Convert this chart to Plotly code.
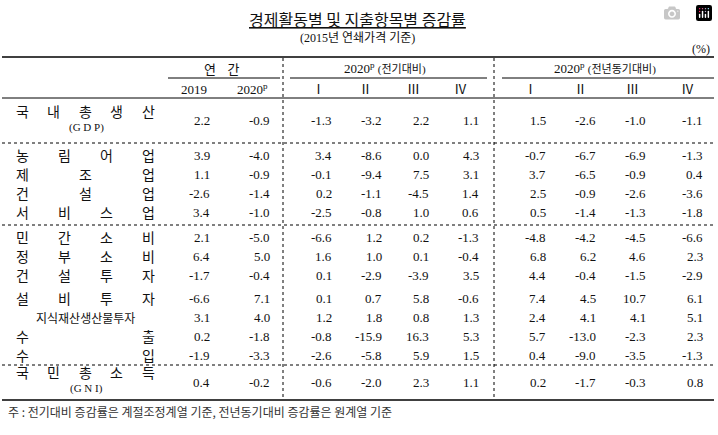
import plotly.graph_objects as go

labels = ["국내총생산", "농림어업", "제조업", "건설업", "서비스업", "민간소비", "정부소비",
          "건설투자", "설비투자", "지식재산생산물투자", "수출", "수입", "국민총소득"]
sublabels = {0: "(G D P)", 12: "(G N I)"}
col_headers = ["2019", "2020<sup>p</sup>", "Ⅰ", "Ⅱ", "Ⅲ", "Ⅳ", "Ⅰ", "Ⅱ", "Ⅲ", "Ⅳ"]
values = [
    [2.2, -0.9, -1.3, -3.2, 2.2, 1.1, 1.5, -2.6, -1.0, -1.1],
    [3.9, -4.0, 3.4, -8.6, 0.0, 4.3, -0.7, -6.7, -6.9, -1.3],
    [1.1, -0.9, -0.1, -9.4, 7.5, 3.1, 3.7, -6.5, -0.9, 0.4],
    [-2.6, -1.4, 0.2, -1.1, -4.5, 1.4, 2.5, -0.9, -2.6, -3.6],
    [3.4, -1.0, -2.5, -0.8, 1.0, 0.6, 0.5, -1.4, -1.3, -1.8],
    [2.1, -5.0, -6.6, 1.2, 0.2, -1.3, -4.8, -4.2, -4.5, -6.6],
    [6.4, 5.0, 1.6, 1.0, 0.1, -0.4, 6.8, 6.2, 4.6, 2.3],
    [-1.7, -0.4, 0.1, -2.9, -3.9, 3.5, 4.4, -0.4, -1.5, -2.9],
    [-6.6, 7.1, 0.1, 0.7, 5.8, -0.6, 7.4, 4.5, 10.7, 6.1],
    [3.1, 4.0, 1.2, 1.8, 0.8, 1.3, 2.4, 4.1, 4.1, 5.1],
    [0.2, -1.8, -0.8, -15.9, 16.3, 5.3, 5.7, -13.0, -2.3, 2.3],
    [-1.9, -3.3, -2.6, -5.8, 5.9, 1.5, 0.4, -9.0, -3.5, -1.3],
    [0.4, -0.2, -0.6, -2.0, 2.3, 1.1, 0.2, -1.7, -0.3, 0.8],
]
title = "경제활동별 및 지출항목별 증감률"
subtitle = "(2015년 연쇄가격 기준)"
group1 = "연    간"
group2 = "2020<sup>p</sup> <span style='font-size:11px'>(전기대비)</span>"
group3 = "2020<sup>p</sup> <span style='font-size:11px'>(전년동기대비)</span>"
unit = "(%)"
note = "주 : 전기대비 증감률은 계절조정계열 기준, 전년동기대비 증감률은 원계열 기준"

SER = "Liberation Serif, Noto Sans CJK KR"
KR = "Noto Sans CJK KR"
col_right = [212, 272, 334, 384, 431, 481, 548, 598, 648, 705]
col_center = [194, 252, 318, 365, 413, 460, 530, 580, 632, 687]
row_y = [120, 155, 174, 193, 212, 237, 256, 275, 298, 317, 336, 355, 382]
label_y = {0: 111, 12: 372}

fig = go.Figure()
ann = []
def A(x, y, t, size=13, font=SER, xa="center", color="#111"):
    ann.append(dict(x=x, y=y, text=t, showarrow=False, xanchor=xa, yanchor="middle",
                    font=dict(family=font, size=size, color=color), xref="x", yref="y"))

A(357, 19, "<u>" + title + "</u>", 16, KR)
A(357, 38, subtitle, 12, SER)
A(712, 49, unit, 12, xa="right")
A(222, 68, group1, 13, KR)
A(385, 68, group2, 13)
A(605, 68, group3, 13)
for x, h in zip(col_center, col_headers):
    A(x, 89, h, 13)

for i, lab in enumerate(labels):
    y = label_y.get(i, row_y[i])
    chars = list(lab)
    n = len(chars)
    x0, x1 = 22, 148
    if n > 6:
        A((x0 + x1) / 2, y, lab, 12, KR)
    else:
        for k, c in enumerate(chars):
            x = x0 + (x1 - x0) * (k / (n - 1) if n > 1 else 0.5)
            A(x, y, c, 14, KR)
    if i in sublabels:
        A(86, y + 16, sublabels[i], 11)
    for j, v in enumerate(values[i]):
        A(col_right[j], row_y[i], f"{v:.1f}", 13, xa="right")

A(6, 411, note, 12, KR, xa="left", color="#333")

shapes = []
def L(x0, y0, x1, y1, w=1, dash="solid"):
    shapes.append(dict(type="line", x0=x0, y0=y0, x1=x1, y1=y1, xref="x", yref="y",
                       line=dict(color="black", width=w, dash=dash)))
L(2, 57, 714, 57, 1.5)
L(168, 78, 280, 78)
L(290, 78, 487, 78)
L(502, 78, 714, 78)
L(2, 98, 714, 98)
L(2, 143, 714, 143, 1, "dot")
L(2, 225, 714, 225, 1, "dot")
L(2, 365, 714, 365, 1, "dot")
L(2, 400, 714, 400, 1.5)
L(283, 58, 283, 400, 1, "dot")
L(494, 58, 494, 400, 1, "dot")

fig.update_layout(annotations=ann, shapes=shapes, width=718, height=435,
                  margin=dict(l=0, r=0, t=0, b=0), plot_bgcolor="white", paper_bgcolor="white",
                  xaxis=dict(range=[0, 718], visible=False, fixedrange=True),
                  yaxis=dict(range=[435, 0], visible=False, fixedrange=True), showlegend=False)
fig.write_html("out.html", post_script="document.body.style.margin='0';document.body.style.overflow='hidden';")
